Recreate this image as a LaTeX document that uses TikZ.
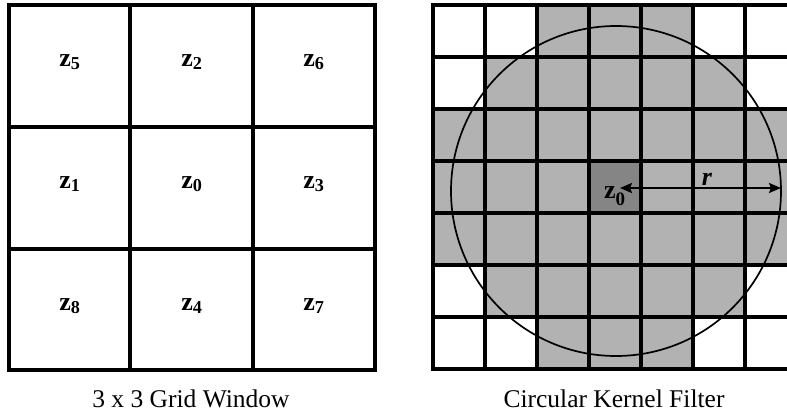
\documentclass[tikz,border=0pt]{standalone}
\usepackage{fontspec}
\setmainfont{Liberation Serif}
\usetikzlibrary{arrows.meta}
\definecolor{cellgray}{RGB}{178,178,178}
\definecolor{centergray}{RGB}{133,133,133}
\tikzset{
  gridline/.style={line width=3.2pt, line cap=rect},
  lbl/.style={font=\fontsize{26}{30}\selectfont\bfseries, inner sep=0pt},
  caption/.style={font=\fontsize{25.5}{30}\selectfont, anchor=base, inner sep=0pt},
  ring/.style={line width=1.7pt},
  radius arrow/.style={line width=2.2pt, {Stealth[length=12pt,width=10pt,inset=2pt]}-{Stealth[length=12pt,width=10pt,inset=2pt]}}
}
\begin{document}
\begin{tikzpicture}[x=1pt,y=-1pt]
\useasboundingbox (0,0) rectangle (787,414);
\fill[white] (0,0) rectangle (787,414);
% ---------- left 3x3 grid ----------
\draw[gridline] (9,5) rectangle (375,370);
\draw[gridline] (130,5) -- (130,370) (253,5) -- (253,370);
\draw[gridline] (9,127) -- (375,127) (9,249) -- (375,249);
\node[lbl] (z5) at (70,62)  {z\textsubscript{5}};
\node[lbl] (z2) at (192,62) {z\textsubscript{2}};
\node[lbl] (z6) at (314,62) {z\textsubscript{6}};
\node[lbl] (z1) at (70,184)  {z\textsubscript{1}};
\node[lbl] (z0l) at (192,184) {z\textsubscript{0}};
\node[lbl] (z3) at (314,184) {z\textsubscript{3}};
\node[lbl] (z8) at (70,306)  {z\textsubscript{8}};
\node[lbl] (z4) at (192,306) {z\textsubscript{4}};
\node[lbl] (z7) at (314,306) {z\textsubscript{7}};
\node[caption] (capL) at (191,407) {3 x 3 Grid Window};
% ---------- right circular kernel ----------
\begin{scope}
\clip (0,0) rectangle (787,414);
% gray cells: row r spans y = 5+52r .. 57+52r ; col c spans x = 433+52c
\fill[cellgray] (537,5) rectangle (693,57);     % row 0, cols 2-4
\fill[cellgray] (485,57) rectangle (745,109);   % row 1, cols 1-5
\fill[cellgray] (433,109) rectangle (800,265);  % rows 2-4, all cols
\fill[cellgray] (485,265) rectangle (745,317);  % row 5, cols 1-5
\fill[cellgray] (537,317) rectangle (693,369);  % row 6, cols 2-4
\fill[centergray] (589,161) rectangle (641,213);
\foreach \i in {0,...,6} {
  \draw[gridline] ({433+52*\i},5) -- ({433+52*\i},369);
}
\foreach \j in {0,...,7} {
  \draw[gridline] (433,{5+52*\j}) -- (800,{5+52*\j});
}
\draw[ring] (616,191) circle[radius=165pt];
\end{scope}
\coordinate (rstart) at (620,188);
\coordinate (rend) at (781,188);
\draw[radius arrow] (rstart) -- (rend);
\node[lbl, font=\fontsize{26}{30}\selectfont\bfseries\itshape] (r) at (707,179) {r};
\node[lbl, anchor=base west] (z0) at (604,199) {z\raisebox{-7pt}{\fontsize{19}{20}\selectfont 0}};
\node[caption] (capR) at (614,407) {Circular Kernel Filter};
\end{tikzpicture}
\end{document}
